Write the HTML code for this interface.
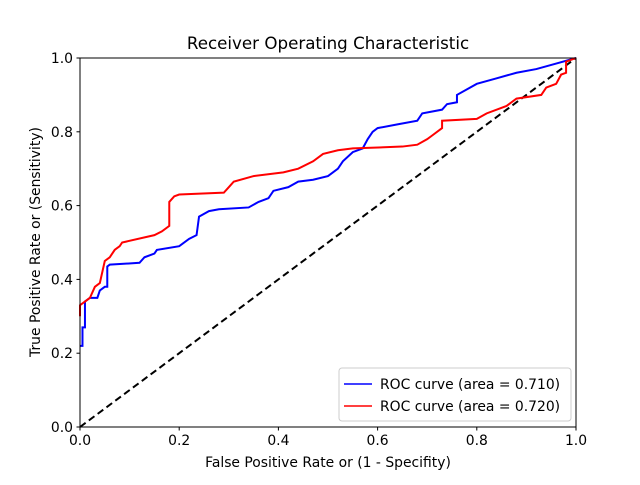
<!DOCTYPE html>
<html><head><meta charset="utf-8"><style>
body{margin:0;background:#fff;}
svg text{font-family:"DejaVu Sans","Liberation Sans",sans-serif;}
</style></head><body>
<svg id="chart" width="640" height="480" xmlns="http://www.w3.org/2000/svg">
<rect width="640" height="480" fill="#fff"/>
<text x="328" y="49" font-size="16.7" text-anchor="middle">Receiver Operating Characteristic</text>
<g id="plot"></g>
<rect x="80" y="58" width="496" height="369" fill="none" stroke="#000" stroke-width="1"/>
<text x="328" y="467" font-size="13.9" text-anchor="middle">False Positive Rate or (1 - Specifity)</text>
<text transform="translate(40,242) rotate(-90)" font-size="13.9" text-anchor="middle">True Positive Rate or (Sensitivity)</text>
<g>
<rect x="339" y="368" width="232" height="53" rx="3" fill="#fff" fill-opacity="0.8" stroke="#ccc"/>
<line x1="344" y1="384" x2="372" y2="384" stroke="#00f" stroke-width="1.5"/>
<text x="380" y="389" font-size="13.9">ROC curve (area = 0.710)</text>
<line x1="344" y1="406" x2="372" y2="406" stroke="#f00" stroke-width="1.5"/>
<text x="380" y="411" font-size="13.9">ROC curve (area = 0.720)</text>
</g>
</svg>
<script>
const ticks=[0,0.2,0.4,0.6,0.8,1.0];
const tickLabels=["0.0","0.2","0.4","0.6","0.8","1.0"];
const fprBlue=[0,0.005,0.005,0.01,0.01,0.02,0.035,0.04,0.05,0.055,0.055,0.06,0.12,0.13,0.15,0.155,0.2,0.22,0.235,0.24,0.26,0.28,0.34,0.36,0.38,0.39,0.42,0.44,0.47,0.5,0.52,0.53,0.55,0.57,0.58,0.59,0.6,0.64,0.68,0.69,0.73,0.74,0.76,0.76,0.8,0.84,0.88,0.92,0.96,1];
const tprBlue=[0.22,0.22,0.27,0.27,0.34,0.35,0.35,0.37,0.38,0.38,0.435,0.44,0.445,0.46,0.47,0.48,0.49,0.51,0.52,0.57,0.585,0.59,0.595,0.61,0.62,0.64,0.65,0.665,0.67,0.68,0.7,0.72,0.745,0.755,0.78,0.8,0.81,0.82,0.83,0.85,0.86,0.875,0.88,0.9,0.93,0.945,0.96,0.97,0.985,1];
const fprRed=[0,0,0.01,0.02,0.03,0.04,0.045,0.05,0.06,0.07,0.08,0.085,0.15,0.165,0.18,0.18,0.19,0.2,0.29,0.3,0.31,0.35,0.41,0.44,0.47,0.49,0.52,0.55,0.65,0.68,0.7,0.71,0.73,0.73,0.8,0.82,0.86,0.88,0.93,0.94,0.96,0.97,0.98,0.98,1];
const tprRed=[0.3,0.33,0.34,0.35,0.38,0.39,0.42,0.45,0.46,0.48,0.49,0.5,0.52,0.53,0.545,0.61,0.625,0.63,0.635,0.65,0.665,0.68,0.69,0.7,0.72,0.74,0.75,0.755,0.76,0.765,0.78,0.79,0.81,0.83,0.835,0.85,0.87,0.89,0.9,0.92,0.93,0.955,0.96,0.99,1];
const X=v=>80+v*496, Y=v=>427-v*369;
const NS="http://www.w3.org/2000/svg";
const g=document.getElementById('plot');
function mk(t,a){const e=document.createElementNS(NS,t);for(const k in a)e.setAttribute(k,a[k]);g.appendChild(e);return e;}
ticks.forEach((t,i)=>{
  const a=mk('line',{x1:X(t),x2:X(t),y1:427,y2:430.5,stroke:'#000'});
  
  
  const l=mk('text',{x:X(t),y:445,'font-size':13.9,'text-anchor':'middle'});l.textContent=tickLabels[i];
  
  
  const b=mk('line',{x1:76.5,x2:80,y1:Y(t),y2:Y(t),stroke:'#000'});
  
  
  const m=mk('text',{x:73,y:Y(t)+5,'font-size':13.9,'text-anchor':'end'});m.textContent=tickLabels[i];
  
  
});
const d=mk('line',{x1:X(0),y1:Y(0),x2:X(1),y2:Y(1),stroke:'#000','stroke-width':2,'stroke-dasharray':'7,4'});


function curve(xs,ys,c,name){
  const p=mk('polyline',{points:xs.map((x,i)=>X(x)+','+Y(ys[i])).join(' '),fill:'none',stroke:c,'stroke-width':2,'stroke-linejoin':'miter'});
  
  
}
curve(fprBlue,tprBlue,'#00f','roc-curve-blue');
curve(fprRed,tprRed,'#f00','roc-curve-red');
</script>
</body></html>
